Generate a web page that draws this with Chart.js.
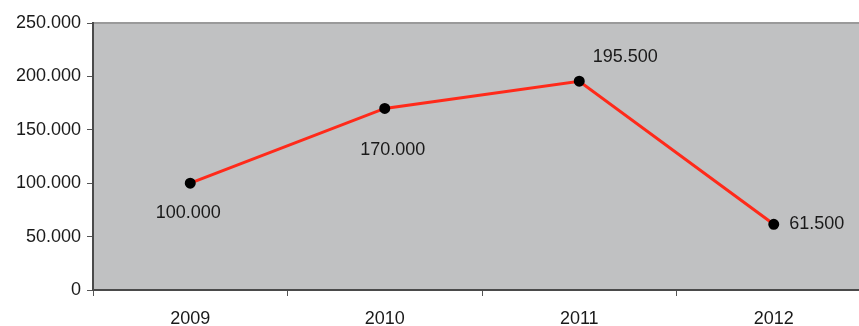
<!DOCTYPE html>
<html>
<head>
<meta charset="utf-8">
<script src="https://cdn.jsdelivr.net/npm/chart.js@4/dist/chart.umd.min.js"></script>
<style>
  html, body { margin: 0; padding: 0; background: #fff; overflow: hidden; }
  #wrap { position: relative; width: 878px; height: 326px; }
</style>
</head>
<body>
<div id="wrap"><canvas id="lineChart"></canvas></div>
<script>
const years = ['2009', '2010', '2011', '2012'];
const values = [100000, 170000, 195500, 61500];
const yTicks = [0, 50000, 100000, 150000, 200000, 250000];

function fmt(v) {
    return v === 0 ? '0' : v.toString().replace(/\B(?=(\d{3})+(?!\d))/g, '.');
}

// gray plot area + top border
const plotBg = {
    id: 'plotBg',
    beforeDraw(chart) {
        const { ctx, chartArea: a } = chart;
        ctx.save();
        ctx.fillStyle = '#c0c1c2';
        ctx.fillRect(a.left, a.top, a.right - a.left, a.bottom - a.top);
        ctx.strokeStyle = '#9a9a9a';
        ctx.lineWidth = 2;
        ctx.beginPath();
        ctx.moveTo(a.left, a.top);
        ctx.lineTo(a.right, a.top);
        ctx.stroke();
        ctx.restore();
    }
};

// value labels next to points
const labelOffsets = [[-2, 30], [8, 42], [46, -24], [43, 0]];
const pointLabels = {
    id: 'pointLabels',
    afterDatasetsDraw(chart) {
        const { ctx } = chart;
        const pts = chart.getDatasetMeta(0).data;
        ctx.save();
        ctx.font = '18px "Liberation Sans", Arial, sans-serif';
        ctx.fillStyle = '#1a1a1a';
        ctx.textAlign = 'center';
        ctx.textBaseline = 'middle';
        pts.forEach((p, i) => {
            const o = labelOffsets[i];
            ctx.fillText(fmt(values[i]), p.x + o[0], p.y + o[1]);
        });
        ctx.restore();
    }
};

new Chart(document.getElementById('lineChart'), {
    type: 'line',
    data: {
        labels: years,
        datasets: [{
            data: values,
            borderColor: '#ff2a1a',
            borderWidth: 3,
            pointBackgroundColor: '#000',
            pointBorderColor: '#000',
            pointRadius: 4,
            tension: 0,
            fill: false
        }]
    },
    options: {
        responsive: true,
        maintainAspectRatio: false,
        animation: false,
        layout: { padding: { top: 23, left: 0, right: 0, bottom: 0 } },
        plugins: {
            legend: { display: false },
            tooltip: { enabled: false }
        },
        scales: {
            x: {
                offset: true,
                grid: {
                    offset: true,
                    drawOnChartArea: false,
                    color: '#555',
                    tickLength: 6,
                    tickWidth: 1
                },
                border: { color: '#4a4a4a', width: 2 },
                ticks: {
                    color: '#1a1a1a',
                    padding: 12,
                    font: { family: '"Liberation Sans", Arial, sans-serif', size: 18 }
                },
                afterFit(scale) { scale.height = 36; }
            },
            y: {
                min: 0,
                max: 250000,
                afterBuildTicks(scale) { scale.ticks = yTicks.map(v => ({ value: v })); },
                grid: {
                    drawOnChartArea: false,
                    color: '#555',
                    tickLength: 6
                },
                border: { color: '#4a4a4a', width: 2 },
                ticks: {
                    color: '#1a1a1a',
                    padding: 6,
                    font: { family: '"Liberation Sans", Arial, sans-serif', size: 18 },
                    callback: v => fmt(v)
                },
                afterFit(scale) { scale.width = 93; }
            }
        }
    },
    plugins: [plotBg, pointLabels]
});
</script>
</body>
</html>
